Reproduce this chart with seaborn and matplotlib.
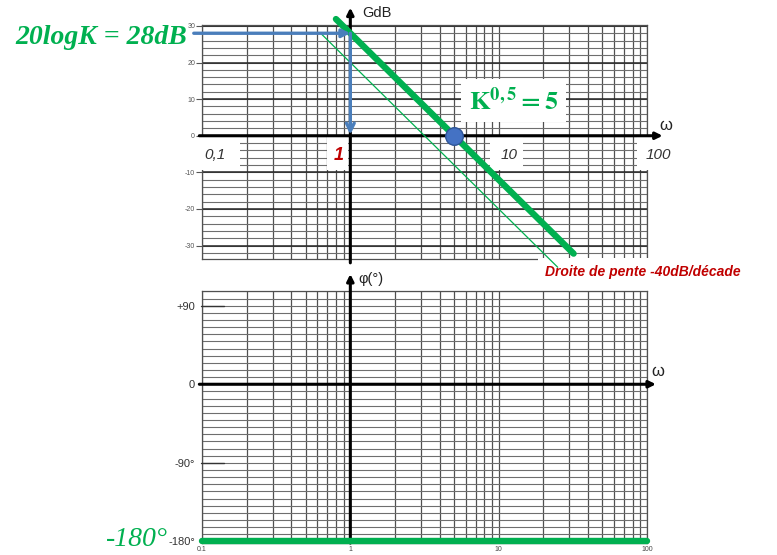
import numpy as np
import pandas as pd
import matplotlib
matplotlib.use("Agg")
import matplotlib.pyplot as plt
import seaborn as sns
from matplotlib.transforms import blended_transform_factory
from matplotlib.ticker import NullLocator
from matplotlib.patches import Rectangle

# ---- Bode asymptotes -------------------------------------------------------
K_dB = 28            # 20 log K
slope = -40          # dB per decade
ref_dB = 20          # thin parallel line: gain at omega = 1
phase_deg = -180     # phase of the double integrator

w_gain = [0.8, 32]       # extent of the thick gain asymptote
w_ref = [0.63, 25]       # extent of the thin parallel line
w_phase = [0.1, 100]     # phase line extent

gain_ticks = [30, 20, 10, 0, -10, -20, -30]
phase_ticks = [90, 0, -90, -180]
phase_labels = ["+90", "0", "-90°", "-180°"]
freq_ticks = [0.1, 1, 10, 100]
freq_labels_gain = ["0,1", "1", "10", "100"]
freq_labels_phase = ["0.1", "1", "10", "100"]

gain = K_dB + slope * np.log10(w_gain)
ref = ref_dB + slope * np.log10(w_ref)
phase = [phase_deg] * len(w_phase)
w_c = 10 ** (-K_dB / slope)          # 0 dB crossing, = K^0.5

GREEN = "#00B050"
RED = "#C00000"
BLUE = "#4A7EBB"
GRID = "#505050"

sns.set_theme(style="white")
plt.rcParams["font.family"] = ["Liberation Sans", "DejaVu Sans"]
plt.rcParams["mathtext.fontset"] = "stix"

W, H = 777, 555
fig = plt.figure(figsize=(W / 100, H / 100), dpi=100)


def rect(x0, y0, x1, y1):
    return [x0 / W, 1 - y1 / H, (x1 - x0) / W, (y1 - y0) / H]


def fx(x):
    return x / W


def fy(y):
    return 1 - y / H


ax_g = fig.add_axes(rect(202, 25.2, 647, 259.1))
ax_p = fig.add_axes(rect(202, 290.7, 647, 543.1))


def log_paper(ax, ylim, yminor, ymajor):
    ax.set_xscale("log")
    ax.set_xlim(0.1, 100)
    ax.set_ylim(*ylim)
    vlines = [m * 10.0 ** e for e in (-1, 0, 1) for m in range(1, 10)] + [100]
    for v in vlines:
        ax.axvline(v, color=GRID, lw=0.9, zorder=0.5)
    for h in yminor:
        ax.axhline(h, color="#6e6e6e", lw=0.8, zorder=0.5)
    for h in ymajor:
        ax.axhline(h, color="#262626", lw=1.1, zorder=0.6)
    for s in ax.spines.values():
        s.set_color(GRID)
        s.set_linewidth(0.9)
    ax.xaxis.set_minor_locator(NullLocator())


# ---- gain plot -------------------------------------------------------------
log_paper(ax_g, (-33.7, 30.2), np.arange(-32, 31, 2), gain_ticks)
ax_g.set_yticks(gain_ticks)
ax_g.set_yticklabels([str(t) for t in gain_ticks])
ax_g.tick_params(axis="y", labelsize=5, labelcolor="#555555", length=4,
                 width=0.8, color="#555555", pad=1, left=True)
ax_g.tick_params(axis="x", which="both", bottom=False, labelbottom=False)

sns.lineplot(x=w_gain, y=gain, ax=ax_g, color=GREEN, lw=4.6, zorder=6)
ax_g.lines[-1].set_clip_on(False)
sns.lineplot(x=w_ref, y=ref, ax=ax_g, color=GREEN, lw=0.9, zorder=6)
ax_g.lines[-1].set_clip_on(False)
sns.scatterplot(x=[w_c], y=[0], ax=ax_g, s=160, color="#4472C4",
                edgecolor="#2F5597", linewidth=1.0, zorder=8)
ax_g.set_xlabel("")
ax_g.set_ylabel("")

# axes arrows
tg = blended_transform_factory(ax_g.transAxes, ax_g.transData)
ax_g.annotate("", xy=(1.035, 0), xytext=(-0.006, 0), xycoords=tg, textcoords=tg,
              arrowprops=dict(arrowstyle="-|>", color="black", lw=2.2,
                              mutation_scale=10, shrinkA=0, shrinkB=0),
              annotation_clip=False, zorder=5)
tgv = blended_transform_factory(ax_g.transData, ax_g.transAxes)
ax_g.annotate("", xy=(1, 1.075), xytext=(1, -0.016), xycoords=tgv, textcoords=tgv,
              arrowprops=dict(arrowstyle="-|>", color="black", lw=2.2,
                              mutation_scale=10, shrinkA=0, shrinkB=0),
              annotation_clip=False, zorder=5)

# white masks behind the frequency labels
for (x0, x1) in [(199, 240), (327, 348), (490, 523), (637, 690)]:
    ax_g.add_patch(Rectangle((fx(x0), fy(170)), (x1 - x0) / W, 33 / H,
                             transform=fig.transFigure, fc="white", ec="none",
                             zorder=4, clip_on=False))

# frequency labels
lab_x = [0.1224, 0.83, 11.7, 118.6]
for wx, txt in zip(lab_x, freq_labels_gain):
    is_one = txt == "1"
    ax_g.text(wx, -5.3, txt, ha="center", va="center",
              fontsize=13 if is_one else 11,
              style="italic", fontweight="bold" if is_one else "normal",
              color=RED if is_one else "#333333", zorder=5, clip_on=False)

# K^0.5 label
ax_g.text(12.6, 9.6, f"$\\mathbf{{K^{{0,5}} = {w_c:.0f}}}$", ha="center",
          va="center", fontsize=19, color=GREEN, zorder=7,
          bbox=dict(boxstyle="square,pad=0.3", fc="white", ec="none"))

# blue construction arrows for 20 log K
ax_g.annotate("", xy=(1, K_dB), xytext=(0.088, K_dB),
              arrowprops=dict(arrowstyle="-|>", color=BLUE, lw=2.4,
                              mutation_scale=12, shrinkA=0, shrinkB=0),
              annotation_clip=False, zorder=7)
ax_g.annotate("", xy=(1, 0.3), xytext=(1, K_dB),
              arrowprops=dict(arrowstyle="->", color=BLUE, lw=2.4,
                              mutation_scale=14, shrinkA=0, shrinkB=0),
              annotation_clip=False, zorder=7)

# slope label sits on a white box under the line ends
ax_g.text(fx(545), fy(272), f"Droite de pente {slope}dB/décade",
          transform=fig.transFigure, ha="left", va="center", fontsize=10,
          style="italic", fontweight="bold", color=RED, zorder=5,
          clip_on=False,
          bbox=dict(boxstyle="square,pad=0.5", fc="white", ec="none"))

fig.text(fx(15), fy(38), f"20logK = {K_dB}dB", ha="left", va="center",
         fontsize=20, family="Liberation Serif", style="italic",
         fontweight="bold", color=GREEN)
fig.text(fx(362), fy(13), "GdB", ha="left", va="center", fontsize=10.5,
         color="#222222")
fig.text(fx(659), fy(126), "ω", ha="left", va="center", fontsize=12,
         color="#222222")

# ---- phase plot ------------------------------------------------------------
log_paper(ax_p, (-182, 107.2), np.arange(-180, 108, 90 / 11), [])
ax_p.set_yticks(phase_ticks)
ax_p.set_yticklabels(phase_labels)
ax_p.tick_params(axis="y", labelsize=8, labelcolor="#333333", length=0,
                 pad=5, left=False)
ax_p.set_xticks(freq_ticks)
ax_p.set_xticklabels(freq_labels_phase)
ax_p.tick_params(axis="x", which="both", labelsize=5, labelcolor="#444444",
                 length=0, pad=2)

sns.lineplot(x=w_phase, y=phase, ax=ax_p, color=GREEN, lw=4.6, zorder=6)
ax_p.lines[-1].set_clip_on(False)
ax_p.set_xlabel("")
ax_p.set_ylabel("")

tp = blended_transform_factory(ax_p.transAxes, ax_p.transData)
for v in (90, -90):
    ax_p.plot([-0.003, 0.05], [v, v], transform=tp, color="#333333", lw=1.0,
              clip_on=False, zorder=3)
ax_p.annotate("", xy=(1.02, 0), xytext=(-0.006, 0), xycoords=tp, textcoords=tp,
              arrowprops=dict(arrowstyle="-|>", color="black", lw=2.2,
                              mutation_scale=10, shrinkA=0, shrinkB=0),
              annotation_clip=False, zorder=5)
tpv = blended_transform_factory(ax_p.transData, ax_p.transAxes)
ax_p.annotate("", xy=(1, 1.066), xytext=(1, 0.0), xycoords=tpv, textcoords=tpv,
              arrowprops=dict(arrowstyle="-|>", color="black", lw=2.2,
                              mutation_scale=10, shrinkA=0, shrinkB=0),
              annotation_clip=False, zorder=5)

fig.text(fx(358), fy(279), "φ(°)", ha="left", va="center", fontsize=10.5,
         color="#222222")
fig.text(fx(651), fy(372), "ω", ha="left", va="center", fontsize=12,
         color="#222222")
fig.text(fx(106), fy(540), f"{phase_deg}°", ha="left", va="center",
         fontsize=20, family="Liberation Serif", style="italic", color=GREEN,
         zorder=6)

fig.savefig("out.png", dpi=100)
